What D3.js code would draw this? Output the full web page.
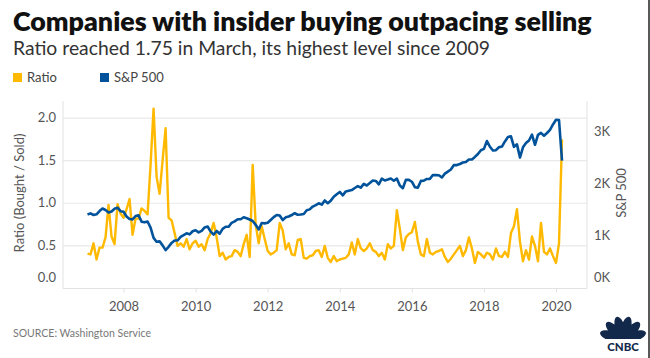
<!DOCTYPE html>
<html><head><meta charset="utf-8">
<script src="https://cdn.jsdelivr.net/npm/d3@7/dist/d3.min.js"></script>
<style>
html,body{margin:0;padding:0;background:#fff;}
svg{display:block;font-family:Lato,"Open Sans",sans-serif;}
</style></head>
<body><svg id="c" width="650" height="358"></svg>
<script>
// ---------- DATA ----------
const startYear = 2007; // monthly series beginning January 2007, ending March 2020
const ratio = [
0.41,0.40,0.53,0.34,0.48,0.48,0.60,0.98,0.61,0.52,0.99,0.88,
0.83,0.93,1.05,0.63,0.82,0.82,0.94,0.91,0.87,1.45,2.11,1.31,
1.11,1.50,1.88,0.83,0.80,0.65,0.50,0.53,0.49,0.58,0.46,0.53,
0.56,0.49,0.52,0.45,0.58,0.65,0.77,0.60,0.38,0.42,0.34,0.37,
0.38,0.45,0.43,0.38,0.52,0.63,0.37,1.45,0.75,0.53,0.73,0.58,
0.44,0.40,0.42,0.45,0.77,0.68,0.46,0.53,0.40,0.39,0.57,0.58,
0.36,0.35,0.38,0.39,0.44,0.45,0.37,0.50,0.36,0.31,0.38,0.32,
0.34,0.35,0.36,0.40,0.54,0.40,0.58,0.47,0.44,0.47,0.53,0.45,
0.43,0.38,0.42,0.34,0.52,0.47,0.50,0.92,0.70,0.45,0.60,0.64,
0.66,0.78,0.55,0.40,0.38,0.58,0.42,0.40,0.43,0.44,0.46,0.37,
0.31,0.35,0.40,0.45,0.50,0.38,0.45,0.60,0.47,0.30,0.43,0.40,
0.36,0.42,0.40,0.34,0.47,0.38,0.37,0.43,0.37,0.65,0.73,0.93,
0.55,0.32,0.45,0.34,0.61,0.50,0.32,0.77,0.43,0.40,0.47,0.38,
0.30,0.53,1.75];
const sp500 = [
1418,1438,1407,1421,1482,1531,1503,1455,1474,1527,1549,1481,
1468,1379,1331,1323,1386,1400,1280,1267,1283,1166,969,896,
903,826,735,798,873,919,919,987,1021,1057,1036,1096,
1115,1074,1104,1169,1187,1089,1031,1102,1049,1141,1183,1181,
1258,1286,1327,1326,1364,1345,1321,1292,1219,1131,1253,1247,
1258,1312,1366,1408,1398,1310,1362,1379,1407,1441,1412,1416,
1426,1498,1515,1569,1598,1631,1606,1686,1633,1682,1757,1806,
1848,1783,1859,1872,1884,1924,1960,1931,2003,1972,2018,2068,
2059,1995,2105,2068,2086,2107,2063,2104,1972,1920,2079,2080,
2044,1940,1932,2060,2065,2097,2099,2174,2171,2168,2126,2199,
2239,2279,2364,2363,2384,2412,2423,2470,2472,2519,2575,2648,
2674,2824,2714,2641,2648,2705,2718,2816,2902,2914,2712,2760,
2507,2704,2784,2834,2946,2752,2942,2980,2926,2977,3038,3141,
3231,3226,2450];
const xTicks = [2008,2010,2012,2014,2016,2018,2020];
const leftTicks = [0,0.5,1.0,1.5,2.0];
const rightTicks = [0,1000,2000,3000];
const title = "Companies with insider buying outpacing selling";
const subtitle = "Ratio reached 1.75 in March, its highest level since 2009";
const legendLabels = ["Ratio","S&P 500"];
const source = "SOURCE: Washington Service";

// ---------- STYLE ----------
const YEL = "#FFB900", BLU = "#00539B";
const svg = d3.select("#c");
const L = 63, R = 587, T = 101, B = 288.5;

const x = d3.scaleLinear().domain([2006.32, 2020.86]).range([L, R]);
const yL = d3.scaleLinear().domain([0, 2.2]).range([B, T]);
const yR = d3.scaleLinear().domain([0, 3590]).range([B, T]);
const t = i => startYear + i / 12;

// title
function fit(sel, w){ const cw = sel.node().getComputedTextLength(); sel.attr("font-size", parseFloat(sel.attr("font-size")) * w / cw); }
const tt = svg.append("text").attr("x", 13).attr("y", 31).attr("font-size", 25).attr("font-weight", 800)
  .attr("fill", "#111").text(title);
fit(tt, 579);
const st = svg.append("text").attr("x", 13).attr("y", 55).attr("font-size", 18).attr("fill", "#333").text(subtitle);
fit(st, 477);

// legend
const lg = svg.append("g").attr("font-size", 13).attr("fill", "#444");
lg.append("rect").attr("x", 13).attr("y", 73).attr("width", 9).attr("height", 9).attr("fill", YEL);
lg.append("text").attr("x", 27).attr("y", 82).text(legendLabels[0]);
lg.append("rect").attr("x", 100).attr("y", 73).attr("width", 9).attr("height", 9).attr("fill", BLU);
lg.append("text").attr("x", 114).attr("y", 82).text(legendLabels[1]);

// grid
svg.append("g").selectAll("line").data(leftTicks.filter(d => d > 0)).join("line")
  .attr("x1", L).attr("x2", R).attr("y1", d => yL(d)).attr("y2", d => yL(d))
  .attr("stroke", "#e9e9e9").attr("stroke-width", 1.2);
// axis frame
svg.append("line").attr("x1", L).attr("x2", L).attr("y1", T).attr("y2", B).attr("stroke", "#e2e2e2");
svg.append("line").attr("x1", R).attr("x2", R).attr("y1", T).attr("y2", B).attr("stroke", "#e2e2e2");
svg.append("line").attr("x1", L).attr("x2", R).attr("y1", B).attr("y2", B).attr("stroke", "#e2e2e2");

// x axis
const xa = svg.append("g").attr("transform", `translate(0,${B})`)
  .call(d3.axisBottom(x).tickValues(xTicks).tickFormat(d3.format("d")).tickSize(4).tickPadding(9));
xa.select(".domain").remove();
xa.selectAll("line").attr("stroke", "#e2e2e2");
xa.selectAll("text").attr("font-size", 13).attr("fill", "#555").attr("font-family", "Lato,sans-serif");

// left axis
const la = svg.append("g").attr("transform", `translate(${L},0)`)
  .call(d3.axisLeft(yL).tickValues(leftTicks).tickFormat(d3.format(".1f")).tickSize(0).tickPadding(7));
la.select(".domain").remove();
la.selectAll(".tick").attr("transform", d => `translate(0,${Math.min(yL(d), 278)})`);
la.selectAll("text").attr("font-size", 13).attr("fill", "#555").attr("font-family", "Lato,sans-serif");

// right axis
const ra = svg.append("g").attr("transform", `translate(${R},0)`)
  .call(d3.axisRight(yR).tickValues(rightTicks).tickFormat(d => (d / 1000) + "K").tickSize(0).tickPadding(7));
ra.select(".domain").remove();
ra.selectAll(".tick").attr("transform", d => `translate(0,${Math.min(yR(d), 278)})`);
ra.selectAll("text").attr("font-size", 13).attr("fill", "#555").attr("font-family", "Lato,sans-serif");

// axis titles
svg.append("text").attr("transform", "translate(24,193) rotate(-90)").attr("text-anchor", "middle")
  .attr("font-size", 13).attr("fill", "#555").text("Ratio (Bought / Sold)");
svg.append("text").attr("transform", "translate(626,193) rotate(-90)").attr("text-anchor", "middle")
  .attr("font-size", 13).attr("fill", "#555").text("S&P 500");

// lines
svg.append("path").datum(ratio).attr("fill", "none").attr("stroke", YEL).attr("stroke-width", 2.4)
  .attr("stroke-linejoin", "round")
  .attr("d", d3.line().x((d, i) => x(t(i))).y(d => yL(d)));
svg.append("path").datum(sp500).attr("fill", "none").attr("stroke", BLU).attr("stroke-width", 2.6)
  .attr("stroke-linejoin", "round")
  .attr("d", d3.line().x((d, i) => x(t(i))).y(d => yR(d)));

// source
svg.append("text").attr("x", 13).attr("y", 337).attr("font-size", 10.5).attr("fill", "#777").text(source);

// CNBC logo
const logo = svg.append("g").attr("transform", "translate(623,340)");
const nF = 6;
for (let k = 0; k < nF; k++) {
  const a = -72 + k * 28.8;
  logo.append("ellipse").attr("cx", 0).attr("cy", -12).attr("rx", 5).attr("ry", 12)
    .attr("transform", `rotate(${a})`).attr("fill", "#13294b");
}
logo.append("rect").attr("x", -24).attr("y", -1).attr("width", 48).attr("height", 18).attr("fill", "#fff");
logo.append("text").attr("x", 0).attr("y", 11).attr("text-anchor", "middle").attr("font-size", 11.5)
  .attr("font-weight", 900).attr("font-family", "Lato,sans-serif").attr("fill", "#13294b").text("CNBC");

// right border
svg.append("line").attr("x1", 649).attr("x2", 649).attr("y1", 0).attr("y2", 358).attr("stroke", "#222").attr("stroke-width", 1.5);
</script></body></html>
